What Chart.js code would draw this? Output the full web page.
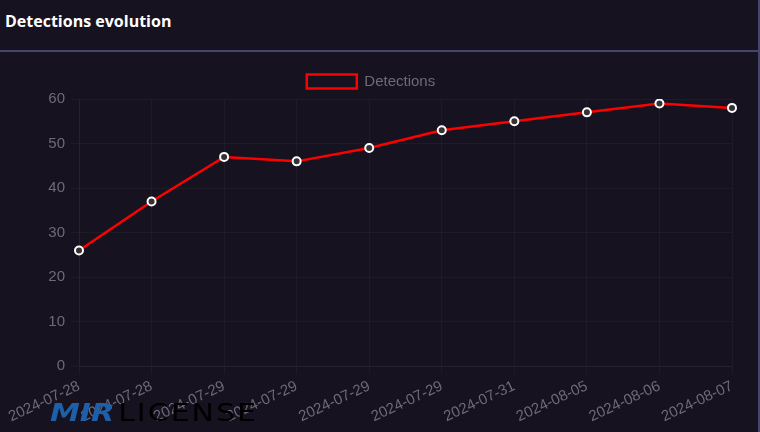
<!DOCTYPE html>
<html>
<head>
<meta charset="utf-8">
<script src="https://cdn.jsdelivr.net/npm/chart.js@4.4.0/dist/chart.umd.min.js"></script>
<style>
  html, body { margin: 0; padding: 0; background: #16121f; width: 760px; height: 432px; overflow: hidden; }
  .card { position: absolute; left: 0; top: 0; width: 758px; height: 432px; border-right: 2px solid #45456b; }
  .header { height: 50px; border-bottom: 2px solid #45456b; }
  .header h1 { margin: 0; padding: 10px 0 0 5px; font: bold 16px "Open Sans", "Noto Sans", sans-serif; color: #fff; }
  .chart-wrap { position: absolute; left: 0; top: 52px; width: 758px; height: 380px; }
  .logo { position: absolute; left: 50px; top: 397px; font: 30px "DejaVu Sans", sans-serif; white-space: nowrap; transform-origin: left top; transform: scaleY(0.85); }
  .logo .mir { color: #1d5fa8; font-weight: bold; font-style: italic; }
  .logo .lic { color: #000; letter-spacing: 2px; margin-left: 4px; }
</style>
</head>
<body>
<div class="card">
  <div class="header"><h1>Detections evolution</h1></div>
  <div class="chart-wrap"><canvas id="chart"></canvas></div>
  <div class="logo"><span class="mir">MIR</span><span class="lic">LICENSE</span></div>
</div>
<script>
const labels = ['2024-07-28', '2024-07-28', '2024-07-29', '2024-07-29', '2024-07-29', '2024-07-29', '2024-07-31', '2024-08-05', '2024-08-06', '2024-08-07']
const detections = [26, 37, 47, 46, 49, 53, 55, 57, 59, 58]

const tickColor = '#6e6a78'
const gridColor = 'rgba(255,255,255,0.035)'

new Chart(document.getElementById('chart'), {
    type: 'line',
    data: {
        labels,
        datasets: [{
            label: 'Detections',
            data: detections,
            borderColor: '#ff0000',
            backgroundColor: 'transparent',
            borderWidth: 2.5,
            pointRadius: 4,
            pointBorderWidth: 2,
            pointBorderColor: '#ffffff',
            pointBackgroundColor: '#333333',
            tension: 0
        }]
    },
    options: {
        responsive: true,
        maintainAspectRatio: false,
        animation: false,
        layout: { padding: { left: 10, right: 26, top: 10, bottom: 3 } },
        plugins: {
            legend: {
                labels: {
                    color: tickColor,
                    font: { size: 15 },
                    boxWidth: 50,
                    boxHeight: 14,
                    padding: 12
                }
            },
            tooltip: { enabled: false }
        },
        scales: {
            x: {
                ticks: { color: tickColor, font: { size: 15 }, minRotation: 25, maxRotation: 25 },
                grid: { color: gridColor },
                border: { color: gridColor }
            },
            y: {
                min: 0,
                max: 60,
                afterFit: s => { s.width = 69 },
                ticks: { color: tickColor, font: { size: 15 }, stepSize: 10, padding: 6 },
                grid: { color: gridColor },
                border: { color: gridColor }
            }
        }
    }
})
</script>
</body>
</html>
